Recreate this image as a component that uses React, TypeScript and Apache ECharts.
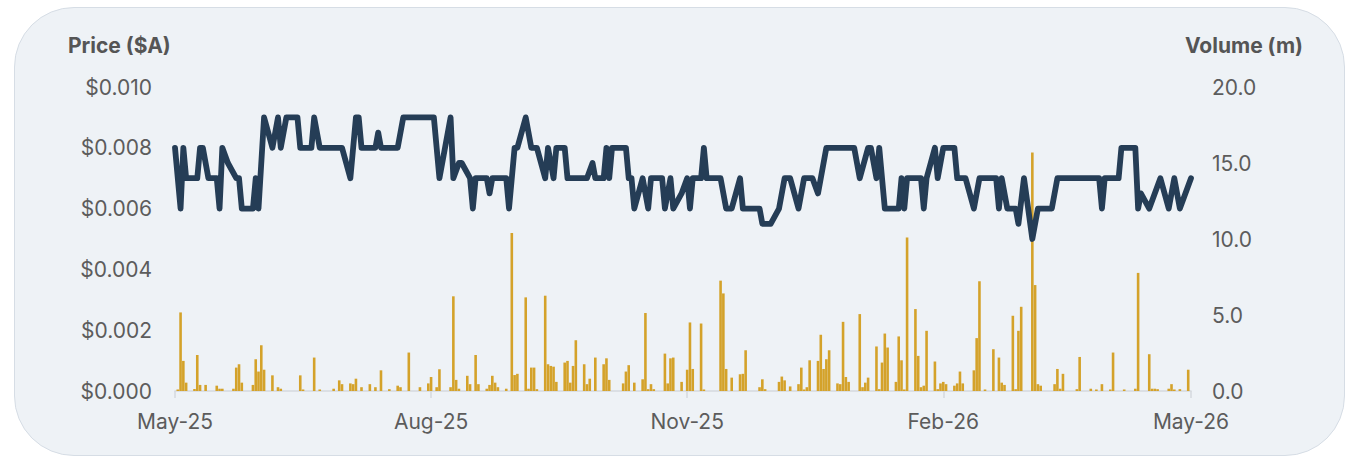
import React, { useEffect, useRef } from "react";
import * as echarts from "echarts";

// ---- Data ----
const startDate = "2025-05-01";
const endDate = "2026-05-01";

const tickDates = ["2025-05-01", "2025-08-01", "2025-11-01", "2026-02-01", "2026-05-01"];
const tickLabels = ["May-25", "Aug-25", "Nov-25", "Feb-26", "May-26"];

const priceTicks = [0, 0.002, 0.004, 0.006, 0.008, 0.01];
const volumeTicks = [0, 5, 10, 15, 20];

const pricePoints: [string, number][] = [
  ["2025-05-01", 0.008], ["2025-05-03", 0.006], ["2025-05-04", 0.008], ["2025-05-05", 0.007],
  ["2025-05-09", 0.007], ["2025-05-10", 0.008], ["2025-05-11", 0.008], ["2025-05-13", 0.007],
  ["2025-05-16", 0.007], ["2025-05-17", 0.006], ["2025-05-18", 0.008], ["2025-05-20", 0.0075],
  ["2025-05-23", 0.007], ["2025-05-24", 0.007], ["2025-05-25", 0.006], ["2025-05-29", 0.006],
  ["2025-05-30", 0.007], ["2025-05-31", 0.006], ["2025-06-02", 0.009], ["2025-06-05", 0.008],
  ["2025-06-07", 0.009], ["2025-06-08", 0.008], ["2025-06-10", 0.009], ["2025-06-14", 0.009],
  ["2025-06-15", 0.008], ["2025-06-19", 0.008], ["2025-06-20", 0.009], ["2025-06-22", 0.008],
  ["2025-06-30", 0.008], ["2025-07-03", 0.007], ["2025-07-05", 0.009], ["2025-07-06", 0.009],
  ["2025-07-07", 0.008], ["2025-07-12", 0.008], ["2025-07-13", 0.0085], ["2025-07-14", 0.008],
  ["2025-07-20", 0.008], ["2025-07-22", 0.009], ["2025-08-02", 0.009], ["2025-08-04", 0.007],
  ["2025-08-08", 0.009], ["2025-08-09", 0.007], ["2025-08-11", 0.0075], ["2025-08-12", 0.0075],
  ["2025-08-15", 0.007], ["2025-08-16", 0.006], ["2025-08-17", 0.007], ["2025-08-21", 0.007],
  ["2025-08-22", 0.0065], ["2025-08-23", 0.007], ["2025-08-28", 0.007], ["2025-08-29", 0.006],
  ["2025-08-31", 0.008], ["2025-09-01", 0.008], ["2025-09-04", 0.009], ["2025-09-06", 0.008],
  ["2025-09-08", 0.008], ["2025-09-11", 0.007], ["2025-09-12", 0.008], ["2025-09-14", 0.007],
  ["2025-09-15", 0.008], ["2025-09-18", 0.008], ["2025-09-19", 0.007], ["2025-09-26", 0.007],
  ["2025-09-28", 0.0075], ["2025-09-29", 0.007], ["2025-10-02", 0.007], ["2025-10-03", 0.008],
  ["2025-10-04", 0.007], ["2025-10-05", 0.008], ["2025-10-10", 0.008], ["2025-10-11", 0.007],
  ["2025-10-12", 0.007], ["2025-10-13", 0.006], ["2025-10-16", 0.007], ["2025-10-18", 0.006],
  ["2025-10-19", 0.007], ["2025-10-23", 0.007], ["2025-10-24", 0.006], ["2025-10-26", 0.007],
  ["2025-10-27", 0.006], ["2025-10-30", 0.0065], ["2025-11-01", 0.007], ["2025-11-02", 0.006],
  ["2025-11-03", 0.007], ["2025-11-06", 0.007], ["2025-11-07", 0.008], ["2025-11-08", 0.007],
  ["2025-11-13", 0.007], ["2025-11-15", 0.006], ["2025-11-17", 0.006], ["2025-11-20", 0.007],
  ["2025-11-21", 0.006], ["2025-11-27", 0.006], ["2025-11-28", 0.0055], ["2025-12-01", 0.0055],
  ["2025-12-04", 0.006], ["2025-12-06", 0.007], ["2025-12-08", 0.007], ["2025-12-11", 0.006],
  ["2025-12-13", 0.007], ["2025-12-16", 0.007], ["2025-12-18", 0.0065], ["2025-12-19", 0.007],
  ["2025-12-21", 0.008], ["2025-12-31", 0.008], ["2026-01-02", 0.007], ["2026-01-05", 0.008],
  ["2026-01-06", 0.008], ["2026-01-08", 0.007], ["2026-01-09", 0.008], ["2026-01-11", 0.006],
  ["2026-01-16", 0.006], ["2026-01-17", 0.007], ["2026-01-18", 0.006], ["2026-01-19", 0.007],
  ["2026-01-24", 0.007], ["2026-01-25", 0.006], ["2026-01-26", 0.007], ["2026-01-29", 0.008],
  ["2026-01-30", 0.007], ["2026-02-01", 0.008], ["2026-02-05", 0.008], ["2026-02-06", 0.007],
  ["2026-02-09", 0.007], ["2026-02-12", 0.006], ["2026-02-14", 0.007], ["2026-02-20", 0.007],
  ["2026-02-21", 0.006], ["2026-02-22", 0.007], ["2026-02-24", 0.006], ["2026-02-27", 0.006],
  ["2026-02-28", 0.0055], ["2026-03-02", 0.007], ["2026-03-05", 0.005], ["2026-03-07", 0.006],
  ["2026-03-12", 0.006], ["2026-03-14", 0.007], ["2026-03-29", 0.007], ["2026-03-30", 0.006],
  ["2026-03-31", 0.007], ["2026-04-05", 0.007], ["2026-04-06", 0.008], ["2026-04-11", 0.008],
  ["2026-04-12", 0.006], ["2026-04-13", 0.0065], ["2026-04-16", 0.006], ["2026-04-20", 0.007],
  ["2026-04-23", 0.006], ["2026-04-25", 0.007], ["2026-04-27", 0.006], ["2026-05-01", 0.007],
];

const volumePoints: [string, number][] = [
  ["2025-05-02", 0.1], ["2025-05-03", 5.17], ["2025-05-04", 1.98], ["2025-05-05", 0.55],
  ["2025-05-08", 0.13], ["2025-05-09", 2.37], ["2025-05-10", 0.4], ["2025-05-12", 0.4],
  ["2025-05-16", 0.35], ["2025-05-17", 0.15], ["2025-05-18", 0.15], ["2025-05-22", 0.15],
  ["2025-05-23", 1.54], ["2025-05-24", 1.76], ["2025-05-25", 0.55], ["2025-05-29", 0.4],
  ["2025-05-30", 2.09], ["2025-05-31", 1.28], ["2025-06-01", 3.01], ["2025-06-02", 1.4],
  ["2025-06-05", 1.03], ["2025-06-07", 0.25], ["2025-06-08", 0.15], ["2025-06-15", 1.03],
  ["2025-06-16", 0.1], ["2025-06-20", 2.2], ["2025-06-22", 0.1], ["2025-06-27", 0.15],
  ["2025-06-29", 0.7], ["2025-06-30", 0.45], ["2025-07-03", 0.5], ["2025-07-04", 0.45],
  ["2025-07-05", 0.81], ["2025-07-07", 0.25], ["2025-07-10", 0.45], ["2025-07-12", 0.25],
  ["2025-07-14", 1.36], ["2025-07-17", 0.12], ["2025-07-20", 0.35], ["2025-07-21", 0.25],
  ["2025-07-24", 2.53], ["2025-07-28", 0.25], ["2025-07-31", 0.5], ["2025-08-01", 0.92],
  ["2025-08-03", 0.25], ["2025-08-04", 1.43], ["2025-08-08", 0.25], ["2025-08-09", 6.23],
  ["2025-08-10", 0.73], ["2025-08-11", 0.15], ["2025-08-14", 1.0], ["2025-08-15", 0.45],
  ["2025-08-17", 2.37], ["2025-08-18", 0.45], ["2025-08-21", 0.15], ["2025-08-22", 0.4],
  ["2025-08-23", 1.0], ["2025-08-24", 0.55], ["2025-08-25", 0.25], ["2025-08-28", 0.15],
  ["2025-08-30", 10.4], ["2025-08-31", 1.05], ["2025-09-01", 1.13], ["2025-09-04", 6.16],
  ["2025-09-05", 0.15], ["2025-09-06", 1.54], ["2025-09-07", 1.54], ["2025-09-08", 0.12],
  ["2025-09-11", 6.27], ["2025-09-12", 1.76], ["2025-09-13", 1.65], ["2025-09-14", 1.6],
  ["2025-09-15", 0.6], ["2025-09-18", 1.87], ["2025-09-19", 1.98], ["2025-09-20", 0.55],
  ["2025-09-21", 1.65], ["2025-09-22", 3.34], ["2025-09-25", 1.76], ["2025-09-26", 0.45],
  ["2025-09-27", 0.81], ["2025-09-29", 2.2], ["2025-10-02", 1.76], ["2025-10-03", 2.15],
  ["2025-10-04", 0.73], ["2025-10-09", 0.5], ["2025-10-10", 1.28], ["2025-10-11", 1.7],
  ["2025-10-13", 0.55], ["2025-10-16", 0.77], ["2025-10-17", 5.13], ["2025-10-18", 0.12],
  ["2025-10-19", 0.45], ["2025-10-20", 0.12], ["2025-10-24", 2.46], ["2025-10-25", 0.5],
  ["2025-10-26", 2.15], ["2025-10-27", 2.2], ["2025-10-30", 0.6], ["2025-11-01", 1.4],
  ["2025-11-02", 4.51], ["2025-11-03", 1.45], ["2025-11-06", 4.44], ["2025-11-07", 0.1],
  ["2025-11-13", 7.26], ["2025-11-14", 6.42], ["2025-11-15", 1.45], ["2025-11-17", 0.88],
  ["2025-11-20", 1.1], ["2025-11-21", 1.13], ["2025-11-22", 2.68], ["2025-11-27", 0.25],
  ["2025-11-28", 0.77], ["2025-11-29", 0.12], ["2025-12-04", 0.6], ["2025-12-05", 0.95],
  ["2025-12-06", 0.7], ["2025-12-08", 0.3], ["2025-12-11", 0.45], ["2025-12-12", 1.54],
  ["2025-12-13", 0.1], ["2025-12-14", 0.25], ["2025-12-15", 2.02], ["2025-12-18", 1.98],
  ["2025-12-19", 3.7], ["2025-12-20", 1.45], ["2025-12-21", 2.09], ["2025-12-22", 2.68],
  ["2025-12-25", 0.5], ["2025-12-26", 0.45], ["2025-12-27", 4.55], ["2025-12-28", 0.92],
  ["2025-12-29", 0.6], ["2026-01-02", 5.06], ["2026-01-03", 0.25], ["2026-01-04", 0.55],
  ["2026-01-05", 0.88], ["2026-01-08", 2.93], ["2026-01-09", 0.12], ["2026-01-10", 1.87],
  ["2026-01-11", 3.78], ["2026-01-12", 2.86], ["2026-01-15", 0.6], ["2026-01-16", 3.59],
  ["2026-01-17", 2.02], ["2026-01-18", 0.1], ["2026-01-19", 10.1], ["2026-01-22", 5.39],
  ["2026-01-23", 2.31], ["2026-01-24", 0.25], ["2026-01-25", 0.35], ["2026-01-26", 3.96],
  ["2026-01-29", 1.94], ["2026-01-30", 0.12], ["2026-01-31", 0.5], ["2026-02-01", 0.6],
  ["2026-02-02", 0.45], ["2026-02-05", 0.35], ["2026-02-06", 0.5], ["2026-02-07", 1.28],
  ["2026-02-08", 0.5], ["2026-02-12", 1.36], ["2026-02-13", 3.48], ["2026-02-14", 7.22],
  ["2026-02-16", 0.1], ["2026-02-19", 2.75], ["2026-02-21", 2.2], ["2026-02-22", 0.55],
  ["2026-02-23", 0.4], ["2026-02-26", 4.95], ["2026-02-27", 0.12], ["2026-02-28", 3.96],
  ["2026-03-01", 5.54], ["2026-03-05", 15.69], ["2026-03-06", 6.97], ["2026-03-07", 0.45],
  ["2026-03-08", 0.35], ["2026-03-13", 0.45], ["2026-03-14", 1.45], ["2026-03-15", 0.15],
  ["2026-03-16", 1.13], ["2026-03-21", 0.12], ["2026-03-22", 2.24], ["2026-03-26", 0.15],
  ["2026-03-28", 0.1], ["2026-03-30", 0.45], ["2026-04-02", 0.1], ["2026-04-03", 2.53],
  ["2026-04-07", 0.1], ["2026-04-11", 0.15], ["2026-04-12", 7.77], ["2026-04-16", 2.42],
  ["2026-04-17", 0.15], ["2026-04-18", 0.15], ["2026-04-19", 0.12], ["2026-04-23", 0.15],
  ["2026-04-24", 0.45], ["2026-04-25", 0.1], ["2026-04-27", 0.12], ["2026-04-30", 1.4],
];

// ---- Calendar-day category axis ----
function buildCalendar(from: string, to: string): string[] {
  const [fy, fm, fd] = from.split("-").map(Number);
  const [ty, tm, td] = to.split("-").map(Number);
  const out: string[] = [];
  const pad = (n: number) => (n < 10 ? "0" + n : "" + n);
  let t = Date.UTC(fy, fm - 1, fd);
  const end = Date.UTC(ty, tm - 1, td);
  while (t <= end) {
    const d = new Date(t);
    out.push(`${d.getUTCFullYear()}-${pad(d.getUTCMonth() + 1)}-${pad(d.getUTCDate())}`);
    t += 86400000;
  }
  return out;
}

const FONT = "Inter, 'Noto Sans', sans-serif";
const LABEL_COLOR = "#5c5c5c";

export default function App() {
  const ref = useRef<HTMLDivElement>(null);

  useEffect(() => {
    if (!ref.current) return;
    const chart = echarts.init(ref.current, undefined, { renderer: "svg" });
    const days = buildCalendar(startDate, endDate);
    const isTick = (_i: number, v: string) => tickDates.indexOf(v) >= 0;

    chart.setOption({
      animation: false,
      backgroundColor: "transparent",
      grid: { left: 175, right: 157, top: 87, bottom: 67, containLabel: false },
      graphic: [
        {
          type: "text",
          left: 68,
          top: 35,
          style: { text: "Price ($A)", font: `bold 21px ${FONT}`, fill: "#555555" },
        },
        {
          type: "text",
          right: 45,
          top: 35,
          style: { text: "Volume (m)", font: `bold 21px ${FONT}`, fill: "#555555", align: "right" },
        },
      ],
      xAxis: {
        type: "category",
        data: days,
        boundaryGap: false,
        axisLine: { show: true, lineStyle: { color: "#d5d9de", width: 1.5 } },
        axisTick: { show: true, interval: isTick, length: 7, lineStyle: { color: "#d5d9de", width: 1.5 } },
        axisLabel: {
          interval: isTick,
          margin: 20,
          color: LABEL_COLOR,
          fontFamily: FONT,
          fontSize: 21,
          formatter: (v: string) => {
            const i = tickDates.indexOf(v);
            return i >= 0 ? tickLabels[i] : "";
          },
        },
        splitLine: { show: false },
      },
      yAxis: [
        {
          type: "value",
          min: priceTicks[0],
          max: priceTicks[priceTicks.length - 1],
          interval: 0.002,
          axisLine: { show: false },
          axisTick: { show: false },
          splitLine: { show: false },
          axisLabel: {
            margin: 23,
            color: LABEL_COLOR,
            fontFamily: FONT,
            fontSize: 21,
            formatter: (v: number) => "$" + v.toFixed(3),
          },
        },
        {
          type: "value",
          min: volumeTicks[0],
          max: volumeTicks[volumeTicks.length - 1],
          interval: 5,
          axisLine: { show: false },
          axisTick: { show: false },
          splitLine: { show: false },
          axisLabel: {
            margin: 21,
            color: LABEL_COLOR,
            fontFamily: FONT,
            fontSize: 21,
            formatter: (v: number) => v.toFixed(1),
          },
        },
      ],
      series: [
        {
          name: "Volume",
          type: "bar",
          yAxisIndex: 1,
          data: volumePoints,
          barWidth: 2.6,
          itemStyle: { color: "#d4a22a" },
          z: 1,
        },
        {
          name: "Price",
          type: "line",
          yAxisIndex: 0,
          data: pricePoints,
          showSymbol: false,
          symbol: "none",
          lineStyle: { color: "#253d56", width: 5.8, join: "round", cap: "round" },
          z: 2,
        },
      ],
    });

    return () => chart.dispose();
  }, []);

  return (
    <div style={{ position: "fixed", left: 0, top: 0, width: 1348, height: 458, background: "#ffffff", overflow: "hidden" }}>
      <div
        style={{
          position: "absolute",
          left: 14,
          top: 7,
          width: 1331,
          height: 449,
          boxSizing: "border-box",
          borderRadius: 60,
          background: "#eef2f6",
          border: "1.5px solid #d6dde5",
        }}
      />
      <div ref={ref} style={{ position: "absolute", left: 0, top: 0, width: 1348, height: 458 }} />
    </div>
  );
}
